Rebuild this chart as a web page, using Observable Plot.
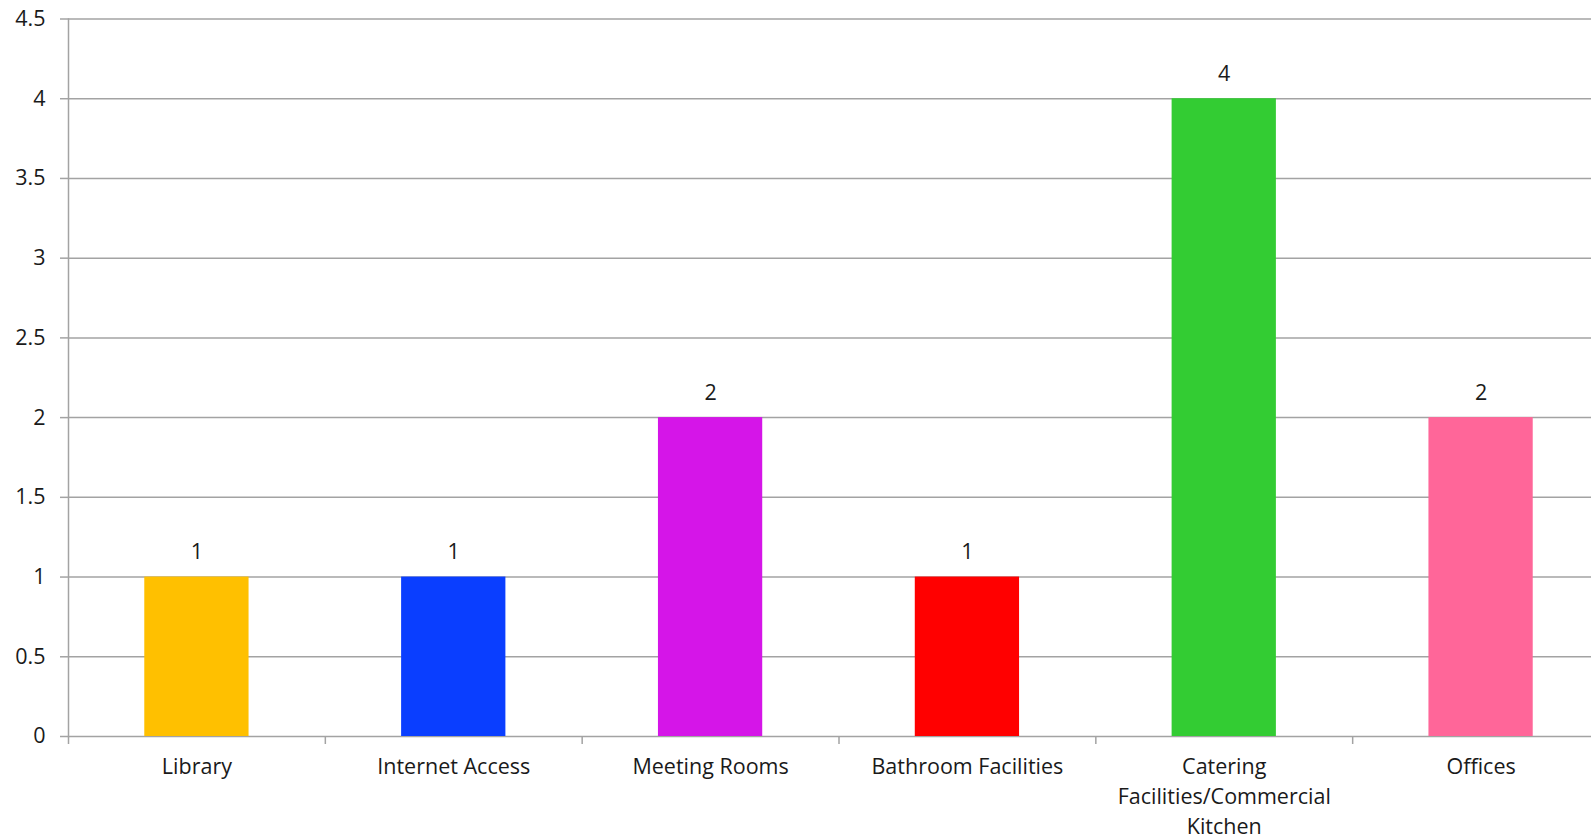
<!DOCTYPE html>
<html>
<head>
<meta charset="utf-8">
<script src="https://cdn.jsdelivr.net/npm/d3@7"></script>
<script src="https://cdn.jsdelivr.net/npm/@observablehq/plot@0.6"></script>
<style>
  html, body { margin: 0; padding: 0; background: #fff; }
  svg { display: block; }
</style>
</head>
<body>
<div id="chart"></div>
<script>
const categories = ["Library", "Internet Access", "Meeting Rooms", "Bathroom Facilities", "Catering Facilities/Commercial Kitchen", "Offices"];
const tickLabels = ["Library", "Internet Access", "Meeting Rooms", "Bathroom Facilities", "Catering\nFacilities/Commercial\nKitchen", "Offices"];
const values = [1, 1, 2, 1, 4, 2];
const colors = ["#FFC000", "#0A3EFF", "#D515E8", "#FF0000", "#33CC33", "#FF6699"];
const yTicks = [0, 0.5, 1, 1.5, 2, 2.5, 3, 3.5, 4, 4.5];

const data = categories.map((c, i) => ({category: c, value: values[i], color: colors[i]}));
const labelOf = new Map(categories.map((c, i) => [c, tickLabels[i]]));

const W = 1591, H = 839;
const mLeft = 68, mTop = 18.5, mBottom = 103;
const xEnd = 1609;
const step = (xEnd - mLeft) / categories.length;
const FS = 21.5;

const chart = Plot.plot({
  width: W,
  height: H,
  marginLeft: mLeft,
  marginRight: 0,
  marginTop: mTop,
  marginBottom: mBottom,
  style: {fontFamily: "'Open Sans', Lato, sans-serif", fontSize: FS + "px", fontWeight: 500, color: "#1a1a1a", background: "#fff"},
  x: {domain: categories, range: [mLeft, xEnd], paddingInner: 0.594, paddingOuter: 0.297, round: false, label: null},
  y: {domain: [0, 4.5], range: [H - mBottom, mTop], label: null},
  marks: [
    Plot.ruleY(yTicks, {stroke: "#a3a3a3", strokeWidth: 1.5}),
    Plot.frame({anchor: "left", stroke: "#a3a3a3", strokeWidth: 1.5}),
    Plot.barY(data, {x: "category", y: "value", fill: "color"}),
    Plot.text(data, {x: "category", y: "value", text: d => String(d.value), dy: -25, fontSize: FS, fill: "#1a1a1a"}),
    Plot.axisY({ticks: yTicks, tickSize: 8, tickPadding: 15, stroke: "#a3a3a3", strokeWidth: 1.5, fontSize: FS, fill: "#1a1a1a", tickFormat: d => String(d), label: null}),
    Plot.axisX({ticks: categories, tickSize: 8, dx: -step / 2, text: null, stroke: "#a3a3a3", strokeWidth: 1.5, label: null}),
    Plot.axisX({ticks: categories, tickSize: 0, tickPadding: 16, tickFormat: d => labelOf.get(d), fontSize: FS, lineHeight: 1.4, fill: "#1a1a1a", label: null})
  ]
});
document.getElementById("chart").appendChild(chart);
</script>
</body>
</html>
